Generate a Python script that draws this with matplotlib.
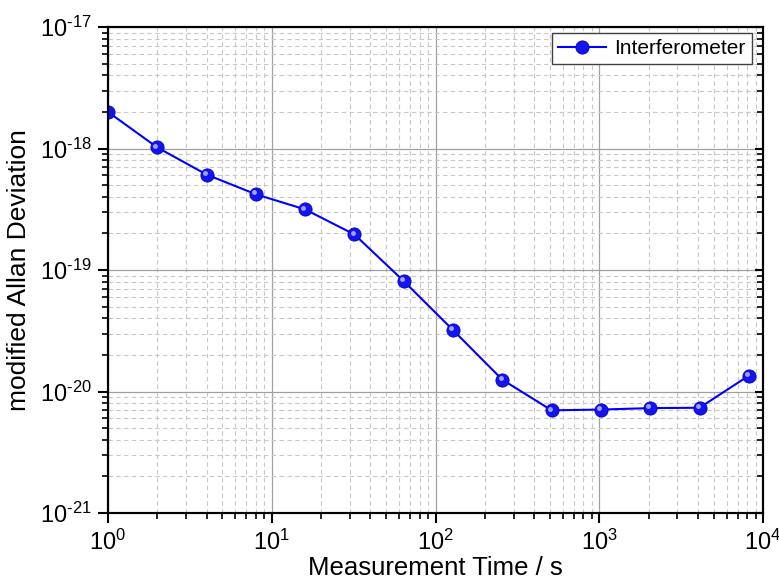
import matplotlib
matplotlib.use('Agg')
import matplotlib.pyplot as plt
import matplotlib.transforms as mtransforms
from matplotlib.ticker import FuncFormatter
import numpy as np

plt.rcParams['font.family'] = ['Liberation Sans', 'DejaVu Sans']
plt.rcParams['mathtext.fontset'] = 'custom'
plt.rcParams['mathtext.rm'] = 'Liberation Sans'
plt.rcParams['mathtext.it'] = 'Liberation Sans'

tau = [1, 2, 4, 8, 16, 32, 64, 128, 256, 512, 1024, 2048, 4096, 8192]
adev = [2.0e-18, 1.02e-18, 6.1e-19, 4.2e-19, 3.15e-19, 1.96e-19, 8.1e-20,
        3.2e-20, 1.25e-20, 7.0e-21, 7.1e-21, 7.3e-21, 7.35e-21, 1.35e-20]

fig = plt.figure(figsize=(7.79, 5.83), dpi=100)
ax = fig.add_axes([108/779, 1-513/583, 655/779, 486/583])

ax.plot(tau, adev, '-', color='#0000ff', lw=1.5, marker='o', ms=9.5,
        mfc='#1414f0', mec='#0000c0', mew=0.6, label='Interferometer', zorder=5)
# highlight on the spheres
hl = mtransforms.offset_copy(ax.transData, fig=fig, x=-1.3, y=1.3, units='points')
ax.plot(tau, adev, ls='none', marker='o', ms=3.5, mfc='#c8c8ff', mec='none',
        alpha=0.8, transform=hl, zorder=6)

ax.set_xscale('log')
ax.set_yscale('log')
ax.set_xlim(1, 1e4)
ax.set_ylim(1e-21, 1e-17)

def fmt(v, pos):
    e = int(round(np.log10(v)))
    return r'$10^{\text{%d}}$' % e

ax.xaxis.set_major_formatter(FuncFormatter(fmt))
ax.yaxis.set_major_formatter(FuncFormatter(fmt))

ax.grid(True, which='major', color='#a0a0a0', lw=0.9, ls='-')
ax.grid(True, which='minor', color='#c8c8c8', lw=0.8, ls=(0, (4, 3)))
ax.set_axisbelow(True)

for s in ax.spines.values():
    s.set_linewidth(1.5)
ax.tick_params(which='major', direction='out', length=7, width=1.5, labelsize=17, pad=5)
ax.tick_params(which='minor', direction='out', length=4, width=1.2)
ax.tick_params(which='both', top=False, right=False)

# inward ticks on the right border
ax2 = ax.twinx()
ax2.set_yscale('log')
ax2.set_ylim(1e-21, 1e-17)
ax2.tick_params(which='major', direction='in', length=6, width=1.5, labelright=False)
ax2.tick_params(which='minor', direction='in', length=4, width=1.2)
for s in ax2.spines.values():
    s.set_linewidth(1.5)

ax.set_xlabel('Measurement Time / s', fontsize=18.5, labelpad=1)
ax.set_ylabel('modified Allan Deviation', fontsize=19, labelpad=6)

leg = ax2.legend(*ax.get_legend_handles_labels(), loc='upper right', fontsize=15,
                 fancybox=False, framealpha=1, edgecolor='#404040', borderpad=0.3,
                 handlelength=2.3, handletextpad=0.4, borderaxespad=0,
                 bbox_to_anchor=(0.983, 0.988))
leg.get_frame().set_linewidth(1.0)

fig.savefig('out.png', dpi=100)
